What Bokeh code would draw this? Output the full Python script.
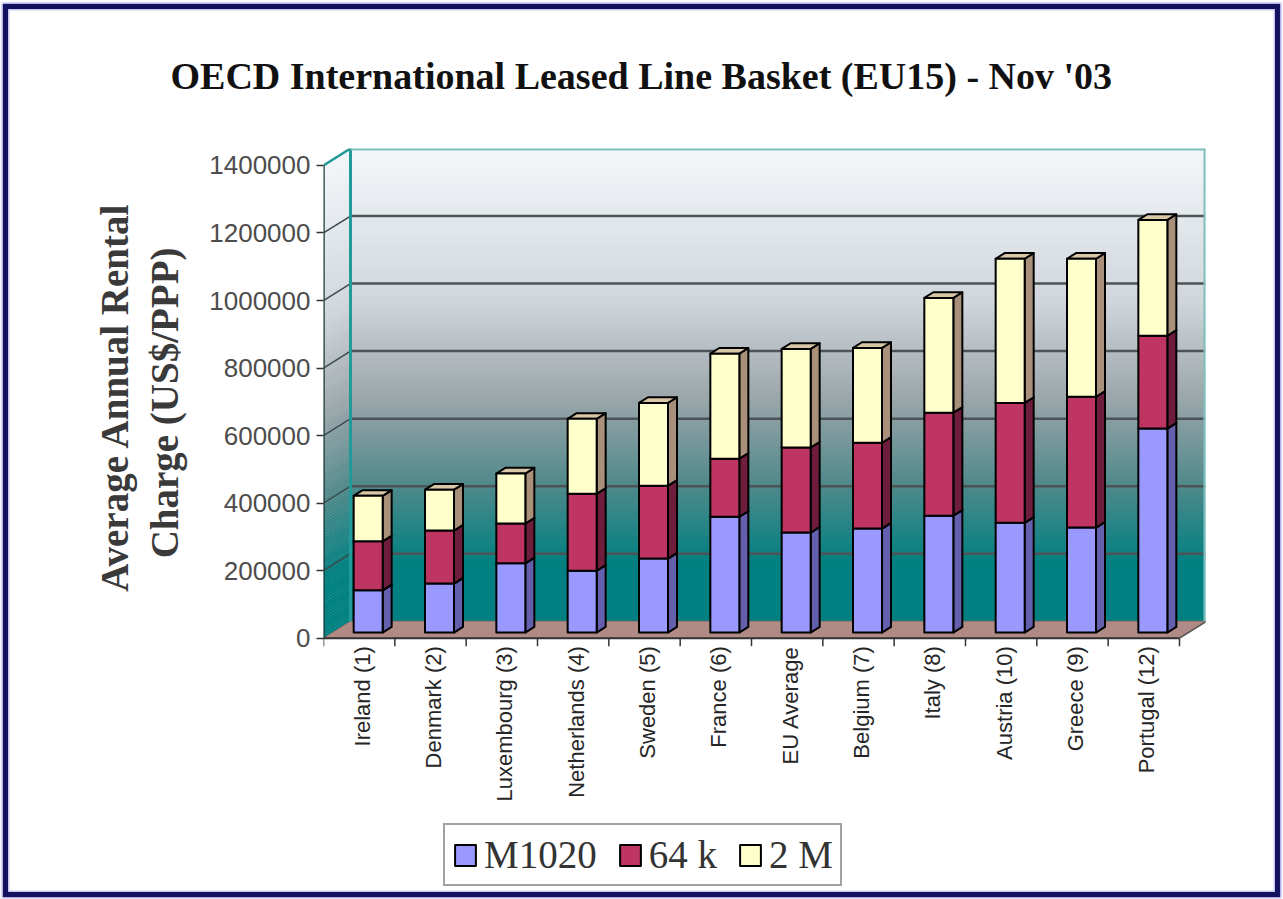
import numpy as np
from bokeh.plotting import figure
from bokeh.models import Range1d, FixedTicker, Legend, LegendItem, BasicTickFormatter, InlineStyleSheet, Title
from bokeh.core.properties import value
from bokeh.embed import file_html
from bokeh.resources import INLINE

# ---------------- data ----------------
countries = ["Ireland (1)", "Denmark (2)", "Luxembourg (3)", "Netherlands (4)",
             "Sweden (5)", "France (6)", "EU Average", "Belgium (7)", "Italy (8)",
             "Austria (10)", "Greece (9)", "Portugal (12)"]
m1020 = [125000, 145000, 205000, 183000, 219000, 343000,
         296000, 308000, 346000, 325000, 311000, 604000]
k64 = [145000, 157000, 118000, 228000, 216000, 172000,
       252000, 254000, 305000, 355000, 387000, 275000]
m2 = [135000, 121000, 148000, 222000, 245000, 311000,
      292000, 281000, 340000, 427000, 409000, 343000]
series_names = ["M1020", "64 k", "2 M"]
y_ticks = [0, 200000, 400000, 600000, 800000, 1000000, 1200000, 1400000]

title_text = "OECD International Leased Line Basket (EU15) - Nov '03"
y_label_top = "Average Annual Rental"
y_label_bottom = "Charge (US$/PPP)"

# ---------------- styling ----------------
front_colors = ["#9999FF", "#BE3462", "#FFFFCC"]
side_colors = ["#6560AE", "#6E1E3C", "#A8907A"]
top_colors = ["#C8C8F0", "#D87090", "#D8C8A8"]
floor_color = "#B08A84"
wall_stops = [(0.00, (0, 128, 128)), (0.12, (0, 128, 128)), (0.30, (85, 138, 140)),
              (0.48, (158, 168, 172)), (0.68, (208, 214, 220)), (1.00, (243, 247, 250))]

# ---------------- geometry ----------------
W, H = 1283, 899
FRAME_L, FRAME_R, FRAME_T = 323, 1205, 146
ZERO_Y = 637                  # pixel row of the value axis zero on the front edge
AXIS_R = 1179                 # right end of the front category axis
DEPTH_PX = (27, 17)           # 3-D depth of the chart box, in pixels
n = len(countries)
px_per_cat = (AXIS_R - FRAME_L) / n
x_end = (FRAME_R - FRAME_L) / px_per_cat
YMAX = y_ticks[-1]
wall_h = ZERO_Y - FRAME_T
dy = DEPTH_PX[1] * YMAX / (wall_h - DEPTH_PX[1])
y_end = YMAX + dy
dx = DEPTH_PX[0] / px_per_cat


def px_x(d):
    return d / px_per_cat


def px_y(d):
    return d * y_end / wall_h


y_start = -px_y(H - ZERO_Y)

p = figure(width=W, height=H, x_range=Range1d(0, x_end), y_range=Range1d(y_start, y_end),
           output_backend="svg", toolbar_location=None, x_axis_location=None,
           min_border_left=FRAME_L, min_border_right=W - FRAME_R,
           min_border_top=FRAME_T, min_border_bottom=0)
p.background_fill_color = "white"
p.border_fill_color = "white"
p.outline_line_color = None
p.grid.visible = False
# dark page frame drawn over the canvas
p.stylesheets = [InlineStyleSheet(css=(
    ":host { position: relative; }"
    ":host::after { content: ''; position: absolute; left: 3px; top: 4px; right: 3px; bottom: 2px;"
    " border: 5px solid #12125e; box-shadow: 0 0 2px 1px #8c8cd8, inset 0 0 2px 1px #b0b0e8;"
    " pointer-events: none; z-index: 100; }"
))]


def wall_color(f):
    for (f0, c0), (f1, c1) in zip(wall_stops[:-1], wall_stops[1:]):
        if f <= f1:
            t = (f - f0) / (f1 - f0) if f1 > f0 else 0
            c = [int(round(a + (b - a) * t)) for a, b in zip(c0, c1)]
            return "#%02x%02x%02x" % tuple(c)
    return "#%02x%02x%02x" % wall_stops[-1][1]


# back wall and left side wall, shaded in thin strips
N = 160
edges = np.linspace(dy, y_end, N + 1)
cols = [wall_color((i + 0.5) / N) for i in range(N)]
p.quad(left=dx, right=x_end, bottom=edges[:-1], top=edges[1:] + (edges[1] - edges[0]) * 0.3,
       fill_color=cols, line_color=None)
side_xs = [[0, dx, dx, 0] for _ in range(N)]
side_ys = [[edges[i] - dy, edges[i], edges[i + 1] + 1000, edges[i + 1] - dy + 1000] for i in range(N)]
p.patches(side_xs, side_ys, fill_color=cols, line_color=None)

# floor
p.patch([0, n, n + dx, dx], [0, 0, dy, dy], fill_color=floor_color, line_color="#8a6a64", line_width=1)

# grid lines on the walls
for t in y_ticks[1:-1]:
    p.segment(x0=dx, y0=t + dy, x1=x_end, y1=t + dy, line_color="#4e5456", line_width=2.5)
    p.segment(x0=0, y0=t, x1=dx, y1=t + dy, line_color="#3c4a4c", line_width=1.5)

# wall edges
p.segment(x0=dx, y0=dy, x1=dx, y1=y_end, line_color="#239a9a", line_width=3)
p.segment(x0=dx, y0=y_end, x1=x_end, y1=y_end, line_color="#7cc0c0", line_width=4)
p.segment(x0=x_end, y0=dy, x1=x_end, y1=y_end, line_color="#7cc0c0", line_width=4)
p.segment(x0=0, y0=YMAX, x1=dx, y1=y_end, line_color="#239a9a", line_width=2.5)

# front axis lines
p.segment(x0=0, y0=0, x1=0, y1=YMAX, line_color="#1d3b3b", line_width=2.5)
p.segment(x0=0, y0=0, x1=n, y1=0, line_color="#333333", line_width=2)
p.segment(x0=n, y0=0, x1=n + dx, y1=dy, line_color="#555555", line_width=1.5)

# category axis: tick marks between columns and rotated names
bounds = np.arange(n + 1)
p.segment(x0=bounds, y0=0, x1=bounds, y1=-px_y(8), line_color="#333333", line_width=1.5)
xc = np.arange(n) + 0.5
p.text(x=xc + px_x(3), y=-px_y(8), text=countries, angle=np.pi / 2,
       text_align="right", text_baseline="middle",
       text_font=value("Liberation Sans"), text_font_size="22px", text_color="#262626")

# ---------------- stacked 3-D bars ----------------
bw = 29 / px_per_cat
d0, d1 = 1 / 3, 2 / 3          # depth slice occupied by the bars
bx = xc + d0 * dx
by0 = d0 * dy
ddx = (d1 - d0) * dx
ddy = (d1 - d0) * dy
left = bx - bw / 2
right = bx + bw / 2

base = np.zeros(n) + by0
front_renderers = []
for k, vals in enumerate([m1020, k64, m2]):
    v = np.array(vals, dtype=float)
    bot = base.copy()
    top = base + v
    p.patches([[r, r + ddx, r + ddx, r] for r in right],
              [[b, b + ddy, t + ddy, t] for b, t in zip(bot, top)],
              fill_color=side_colors[k], line_color="black", line_width=2, line_join="round")
    p.patches([[l, r, r + ddx, l + ddx] for l, r in zip(left, right)],
              [[t, t, t + ddy, t + ddy] for t in top],
              fill_color=top_colors[k], line_color="black", line_width=2, line_join="round")
    fr = p.quad(left=left, right=right, bottom=bot, top=top,
                fill_color=front_colors[k], line_color="black", line_width=2, line_join="round")
    front_renderers.append(fr)
    base = top

# ---------------- value axis ----------------
yax = p.yaxis[0]
yax.ticker = FixedTicker(ticks=y_ticks)
yax.formatter = BasicTickFormatter(use_scientific=False)
yax.axis_line_color = None
yax.major_tick_out = 7
yax.major_tick_in = 0
yax.minor_tick_line_color = None
yax.major_tick_line_color = "#333333"
yax.major_tick_line_width = 1.5
yax.major_label_text_font = "Liberation Sans"
yax.major_label_text_font_size = "26px"
yax.major_label_text_color = "#4d4d4d"
yax.major_label_standoff = 6

# value axis name, two lines stacked left of the tick labels
for txt, off, gap in [(y_label_bottom, 99, 42), (y_label_top, 54, -32)]:
    p.add_layout(Title(text=txt, align="right", offset=off, standoff=gap,
                       text_font="Liberation Serif", text_font_style="bold",
                       text_font_size="39px", text_color="#3a3a3a"), "left")

# ---------------- title ----------------
p.title.text = title_text
p.title.text_font = "Liberation Serif"
p.title.text_font_style = "bold"
p.title.text_font_size = "38px"
p.title.text_color = "#111111"
p.title.align = "left"
p.title.offset = 170 - FRAME_L
p.title.standoff = 104

# ---------------- legend ----------------
legend = Legend(items=[LegendItem(label=s, renderers=[r]) for s, r in zip(series_names, front_renderers)],
                orientation="horizontal", location=(443 - FRAME_L, H - 886))
legend.label_text_font = "Liberation Serif"
legend.label_text_font_size = "39px"
legend.label_text_color = "#333333"
legend.glyph_width = 26
legend.glyph_height = 26
legend.label_standoff = 6
legend.spacing = 20
legend.padding = 7
legend.margin = 0
legend.border_line_color = "#444444"
legend.border_line_width = 2
legend.background_fill_color = "white"
legend.background_fill_alpha = 1
p.add_layout(legend, "center")

open("out.html", "w").write(file_html(p, INLINE))
